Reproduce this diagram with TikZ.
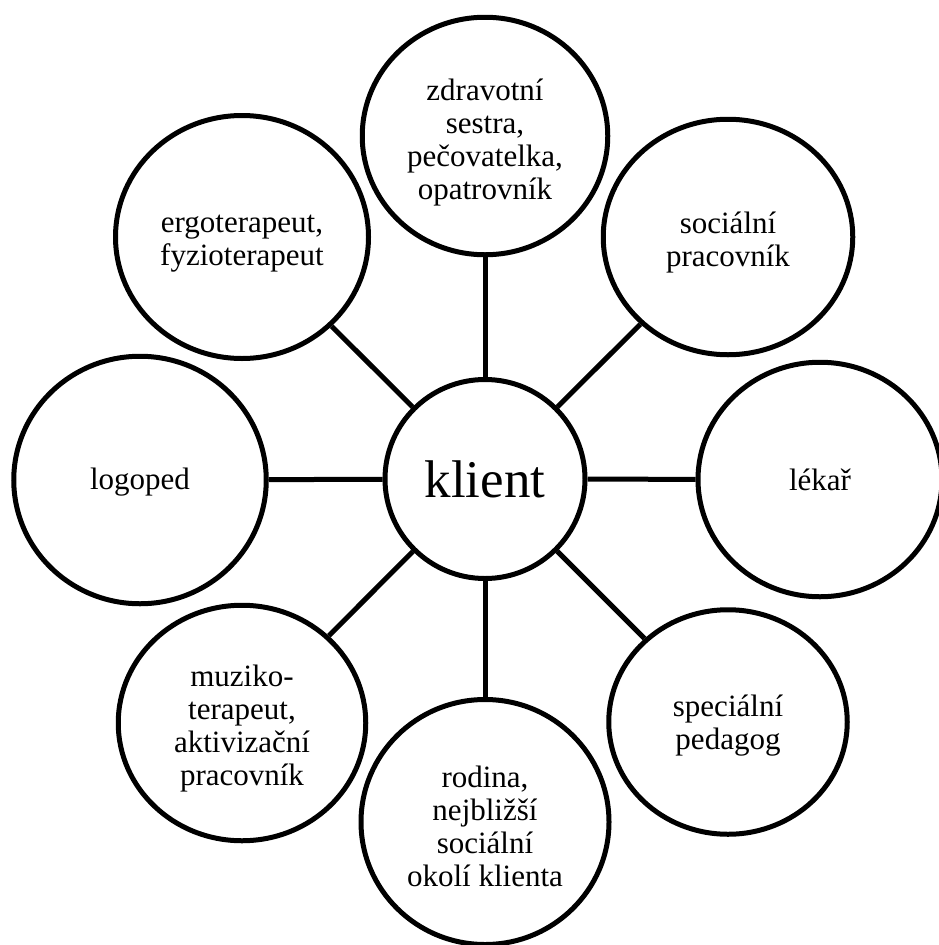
\documentclass[tikz,border=0pt]{standalone}
\usepackage{fontspec}
\setmainfont{Liberation Serif}
\usetikzlibrary{shapes.geometric}
\tikzset{
  bubble/.style={ellipse, draw, line width=5pt, inner sep=0pt},
  txt/.style={align=center, inner sep=0pt, font=\fontsize{31}{33}\selectfont},
  link/.style={line width=5pt}
}
\begin{document}
\begin{tikzpicture}[x=1pt,y=-1pt]
\useasboundingbox (0,0) rectangle (939,945);
\node[bubble, minimum width=200pt, minimum height=199pt, align=center, font=\fontsize{53}{60}\selectfont] (k) at (485,479) {klient};
\node[bubble, minimum width=245.5pt, minimum height=237.5pt, label={[txt, yshift=-7pt]center:{zdravotní\\sestra,\\pečovatelka,\\opatrovník}}] (t) at (485,136) {};
\node[bubble, minimum width=253pt, minimum height=243pt, label={[txt, yshift=-7pt]center:{ergoterapeut,\\fyzioterapeut}}] (tl) at (242,237) {};
\node[bubble, minimum width=249.5pt, minimum height=235.5pt, label={[txt, yshift=-6pt]center:{sociální\\pracovník}}] (tr) at (728,237) {};
\node[bubble, minimum width=252.5pt, minimum height=247.5pt, label={[txt, yshift=-2pt]center:{logoped}}] (l) at (140,480) {};
\node[bubble, minimum width=244pt, minimum height=234.5pt, label={[txt]center:{lékař}}] (r) at (820,479.5) {};
\node[bubble, minimum width=238.5pt, minimum height=224.5pt, label={[txt, yshift=-4pt]center:{speciální\\pedagog}}] (br) at (728,722) {};
\node[bubble, minimum width=248pt, minimum height=245pt, label={[txt, yshift=-4pt]center:{rodina,\\nejbližší\\sociální\\okolí klienta}}] (b) at (485,822) {};
\node[bubble, minimum width=247.5pt, minimum height=235.5pt, label={[txt, yshift=-6pt]center:{muziko-\\terapeut,\\aktivizační\\pracovník}}] (bl) at (242,723) {};
\foreach \n in {t,tl,tr,l,r,br,b,bl} \draw[link] (k) -- (\n);
\end{tikzpicture}
\end{document}
